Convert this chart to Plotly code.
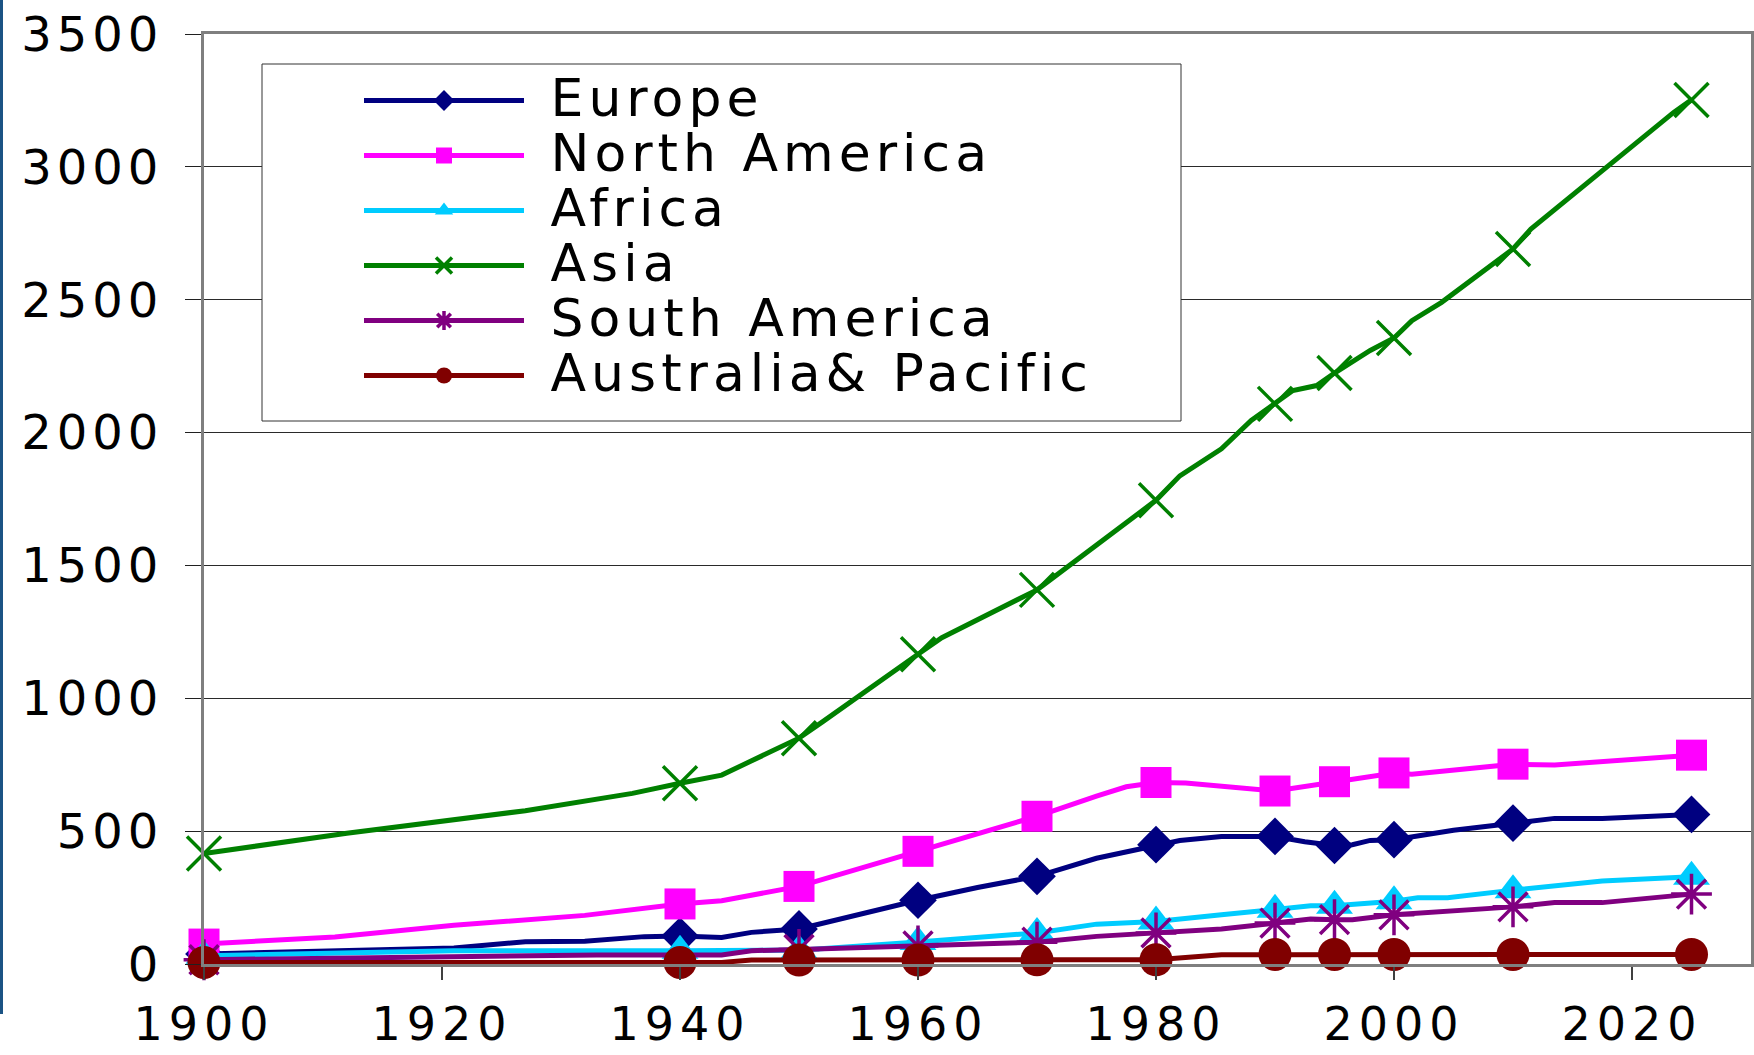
import plotly.graph_objects as go

# ---------------- data ----------------
MARKER_YEARS = [1900, 1940, 1950, 1960, 1970, 1980, 1990, 1995, 2000, 2010, 2025]

europe_years = [1900, 1911, 1921, 1927, 1932, 1937, 1940, 1943.5, 1946, 1950, 1960, 1965, 1970, 1975,
                1980, 1982, 1985.5, 1990, 1992.5, 1995, 1996.5, 1998, 2000, 2001.5, 2005, 2010,
                2013.5, 2017.5, 2025]
europe_values = [38, 48, 60, 84, 86, 103, 105, 100, 119, 132, 240, 288, 330, 398,
                 449, 465, 480, 480, 460, 446, 449, 465, 468, 479, 503, 530,
                 548, 548, 563]

north_america_years = [1900, 1911, 1921, 1932, 1940, 1943.5, 1950, 1960, 1970, 1975, 1977.5, 1980,
                       1982.5, 1990, 1995, 2000, 2001.5, 2004.5, 2010, 2013.5, 2017.5, 2025]
north_america_values = [75, 102, 146, 183, 226, 238, 292, 424, 556, 632, 667, 683,
                        681, 651, 686, 719, 714, 729, 752, 749, 763, 786]

africa_years = [1900, 1921, 1940, 1950, 1960, 1965, 1970, 1975, 1980, 1985.5, 1990, 1993, 1995,
                1996.5, 2000, 2002, 2004.5, 2010, 2017.5, 2025]
africa_values = [31, 50, 50, 52, 83, 101, 117, 150, 160, 185, 204, 219, 219,
                 223, 236, 249, 249, 278, 312, 328]

asia_years = [1900, 1912, 1927, 1936, 1940, 1943.5, 1950, 1952, 1960, 1962, 1970, 1980, 1982,
              1985.5, 1988, 1990, 1991.5, 1993.5, 1995, 1998, 2000, 2001.5, 2004, 2010, 2011.5,
              2023.5, 2025]
asia_values = [416, 492, 577, 642, 680, 711, 850, 912, 1166, 1228, 1408, 1745, 1837,
               1939, 2046, 2108, 2158, 2177, 2224, 2309, 2356, 2421, 2490, 2691, 2766,
               3205, 3252]

south_america_years = [1900, 1921, 1933, 1943.5, 1946, 1950, 1960, 1965, 1970, 1975, 1980, 1985.5,
                       1990, 1993, 1995, 1996.5, 2000, 2004.5, 2010, 2013.5, 2017.5, 2025]
south_america_values = [16, 30, 34, 34, 50, 55, 68, 73, 82, 104, 117, 132,
                        154, 169, 167, 167, 185, 199, 215, 231, 231, 263]

australia_years = [1900, 1940, 1943.5, 1946, 1950, 1960, 1970, 1980, 1985.5, 1990, 1995, 2000, 2010, 2025]
australia_values = [6, 6, 6, 15, 15, 15, 16, 16, 35, 36, 36, 36, 36, 36]

series_names = ["Europe", "North America", "Africa", "Asia", "South America", "Australia& Pacific"]
series_colors = ["#000080", "#FF00FF", "#00CCFF", "#008000", "#800080", "#800000"]
series_symbols = ["diamond", "square", "triangle-up", "x-thin-open", "asterisk-open", "circle"]
series_sizes = [29, 31, 32, 34, 34, 33]
series_marker_lw = [0, 0, 0, 3.5, 3.5, 0]

x_tick_values = [1900, 1920, 1940, 1960, 1980, 2000, 2020]
x_tick_labels = ["1900", "1920", "1940", "1960", "1980", "2000", "2020"]
y_tick_values = [0, 500, 1000, 1500, 2000, 2500, 3000, 3500]
y_tick_labels = ["0", "500", "1000", "1500", "2000", "2500", "3000", "3500"]

series_data = [
    (europe_years, europe_values),
    (north_america_years, north_america_values),
    (africa_years, africa_values),
    (asia_years, asia_values),
    (south_america_years, south_america_values),
    (australia_years, australia_values),
]

# ---------------- figure ----------------
W, H = 1754, 1055
ML, MR, MT, MB = 204, 3, 34, 91
PW, PH = W - ML - MR, H - MT - MB

def px_x(p):
    return (p - ML) / PW

def px_y(p):
    return (H - MB - p) / PH

FONT = "DejaVu Sans"
TRANSPARENT = "rgba(0,0,0,0)"

def wide(text, size, spacing):
    return '<span style="font-size:%dpx;letter-spacing:%dpx">%s</span>' % (size, spacing, text)

fig = go.Figure()
for name, color, sym, size, mlw, (yrs, vals) in zip(series_names, series_colors, series_symbols,
                                                       series_sizes, series_marker_lw, series_data):
    mcolors = [color if y in MARKER_YEARS else TRANSPARENT for y in yrs]
    fig.add_trace(go.Scatter(
        x=yrs, y=vals, name=wide("\u00a0" + name, 52, 5), mode="lines+markers",
        line=dict(color=color, width=5),
        marker=dict(symbol=sym, size=size, color=mcolors,
                    line=dict(width=mlw, color=mcolors)),
        cliponaxis=False,
    ))

# legend frame (opaque box like the original)
fig.add_shape(type="rect", xref="paper", yref="paper",
              x0=px_x(262), x1=px_x(1181), y0=px_y(421), y1=px_y(64),
              line=dict(color="#333333", width=1), fillcolor="white", layer="above")

# slide border strip at the far left
fig.add_shape(type="rect", xref="paper", yref="paper",
              x0=px_x(0), x1=px_x(3), y0=px_y(1014), y1=px_y(0),
              line=dict(width=0), fillcolor="#1b5384", layer="above")

fig.update_layout(
    width=W, height=H,
    margin=dict(l=ML, r=MR, t=MT, b=MB, autoexpand=False),
    paper_bgcolor="white", plot_bgcolor="white",
    font=dict(family=FONT, color="black"),
    showlegend=True,
    legend=dict(
        x=px_x(359), y=px_y(68), xanchor="left", yanchor="top",
        bgcolor="rgba(0,0,0,0)", borderwidth=0,
        font=dict(family=FONT, size=40, color="black"),
        itemwidth=160, itemclick=False, itemdoubleclick=False,
    ),
    xaxis=dict(
        range=[1900, 2030], tickmode="array",
        tickvals=x_tick_values, ticktext=[wide(t, 46, 6) for t in x_tick_labels],
        showgrid=False, zeroline=False, automargin=False,
        showline=True, linecolor="#7f7f7f", linewidth=3, mirror=True,
        ticks="outside", ticklen=13, tickwidth=1.5, tickcolor="#404040",
        tickfont=dict(family=FONT, size=46, color="black"),
        ticklabelstandoff=5,
    ),
    yaxis=dict(
        range=[0, 3500], tickmode="array",
        tickvals=y_tick_values, ticktext=[wide(t, 48, 5) for t in y_tick_labels],
        showgrid=True, gridcolor="#2a2a2a", gridwidth=1, zeroline=False, automargin=False,
        showline=True, linecolor="#7f7f7f", linewidth=3, mirror=True,
        ticks="outside", ticklen=16, tickwidth=1, tickcolor="#202020",
        tickfont=dict(family=FONT, size=48, color="black"),
        ticklabelstandoff=12,
    ),
)

fig.write_html("out.html", config={"displayModeBar": False},
               post_script="document.body.style.margin='0';document.body.style.overflow='hidden';")
